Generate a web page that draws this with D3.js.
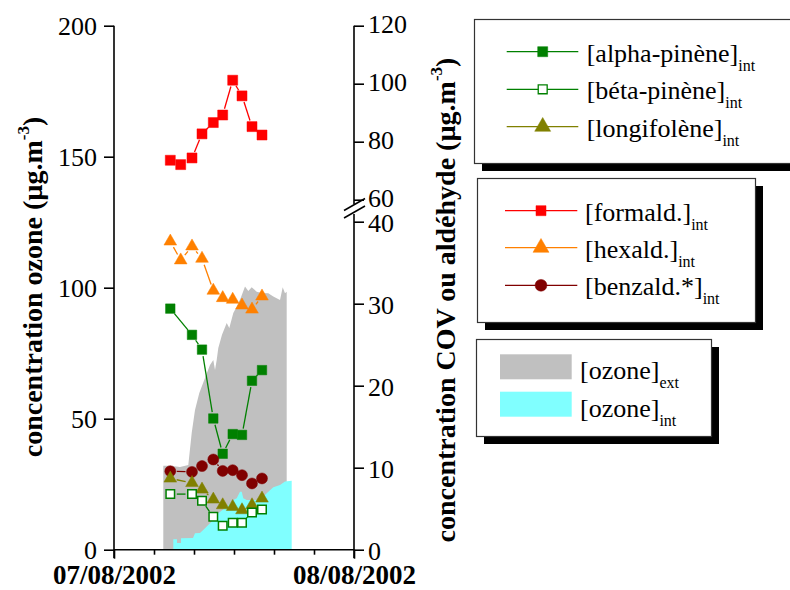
<!DOCTYPE html>
<html><head><meta charset="utf-8">
<script src="https://cdn.jsdelivr.net/npm/d3@7"></script>
<style>body{margin:0;background:#fff} svg{display:block} text{font-family:'Liberation Serif','Times New Roman',serif}</style>
</head><body>
<svg id="chart" width="790" height="590"></svg>
<script>
// ---------- data ----------
const dayLabels = ["07/08/2002", "08/08/2002"];
const sampleHours = [5.63, 6.67, 7.8, 8.8, 9.93, 10.87, 11.87, 12.8, 13.8, 14.8];
const formald = [73.6, 72.1, 74.4, 82.7, 86.6, 89.2, 101.2, 95.8, 85.2, 82.3];
const hexald  = [37.6, 35.3, 37.0, 35.5, 31.6, 30.7, 30.5, 29.8, 29.3, 30.9];
const benzald = [9.57, null, 9.49, 10.2, 11.0, 9.61, 9.70, 9.09, 8.08, 8.69];
const alphaPinene = [29.4, null, 26.2, 24.4, 16.0, 11.7, 14.1, 14.0, 20.6, 21.9];
const betaPinene  = [6.78, null, 6.78, 5.96, 4.01, 2.92, 3.28, 3.28, 4.55, 4.91];
const longifolene = [8.69, null, 8.15, 7.35, 6.13, 5.44, 5.23, 4.83, 5.44, 6.25];

const ozoneExtHours  = [4.93, 4.93, 5.6, 6.6, 7.43, 7.77, 8.1, 8.53, 9.1, 9.6, 9.93, 10.1, 10.27, 10.43, 10.8, 11.27, 11.53, 11.93, 12.27, 12.7, 13.1, 13.43, 13.77, 14.27, 14.8, 15.43, 15.93, 16.6, 16.87, 17.1, 17.27, 17.27];
const ozoneExtValues = [0, 32, 32, 31.6, 32.3, 44.5, 53.3, 59.8, 65.5, 70.5, 72.4, 68.6, 72.4, 77, 82, 86.5, 84.6, 90.3, 92.7, 96.4, 100.5, 98.7, 100.2, 98.5, 98, 97.9, 96.6, 95.3, 100.2, 97.9, 98.5, 0];
const ozoneIntHours  = [5.93, 5.93, 6.3, 6.3, 6.7, 6.7, 7.9, 8.1, 8.6, 9.1, 9.6, 9.93, 10.43, 11.27, 11.93, 12.27, 12.6, 12.77, 12.93, 13.27, 14.27, 14.77, 15.27, 15.93, 16.6, 17.1, 17.77, 17.77];
const ozoneIntValues = [0, 4.0, 4.0, 2.6, 2.6, 4.4, 4.5, 6.3, 6.4, 8.2, 10.1, 11.3, 13.9, 16.4, 19.0, 19.6, 22.1, 22.1, 19.6, 19.0, 19.0, 19.6, 21.5, 23.8, 24.7, 26.0, 26.3, 0];

const leftTicks = [0, 50, 100, 150, 200];
const rightUpperTicks = [60, 80, 100, 120];
const rightLowerTicks = [0, 10, 20, 30, 40];
const hourTicks = [0, 4, 8, 12, 16, 20, 24];

// ---------- setup ----------
const FONT = "'Liberation Serif','Times New Roman',serif";
const svg = d3.select("#chart");
const day0 = new Date(2002, 7, 7);
const toDate = h => new Date(day0.getTime() + h * 3600e3);

const x = d3.scaleTime().domain([toDate(0), toDate(24)]).range([114, 354]);
const yO = d3.scaleLinear().domain([0, 200]).range([549.7, 25.7]);
const yU = d3.scaleLinear().domain([60, 120]).range([199.7, 25.7]);
const yL = d3.scaleLinear().domain([0, 40]).range([549.7, 221.7]);

// ---------- ozone areas ----------
function areaData(hs, vs) { return hs.map((h, i) => ({t: toDate(h), v: vs[i]})); }
const area = d3.area().x(d => x(d.t)).y0(yO(0)).y1(d => yO(d.v));
svg.append("path").datum(areaData(ozoneExtHours, ozoneExtValues)).attr("d", area).attr("fill", "#c0c0c0");
svg.append("path").datum(areaData(ozoneIntHours, ozoneIntValues)).attr("d", area).attr("fill", "#80ffff");

// ---------- axes ----------
function styleAxis(g, fs) {
  g.attr("font-family", FONT);
  g.select(".domain").remove();
  g.selectAll("line").attr("stroke", "#000").attr("stroke-width", 1.6);
  g.selectAll("text").attr("font-family", FONT).attr("font-size", fs).attr("fill", "#000");
}
const TF = 26;
// left axis
const gl = svg.append("g").attr("transform", "translate(114,0)")
  .call(d3.axisLeft(yO).tickValues(leftTicks).tickSize(10).tickPadding(7).tickFormat(d3.format("d")));
styleAxis(gl, TF);
svg.append("line").attr("x1", 114).attr("x2", 114).attr("y1", yO(200)).attr("y2", 558).attr("stroke", "#000").attr("stroke-width", 1.6);

// right axis (broken)
const gru = svg.append("g").attr("transform", "translate(354,0)")
  .call(d3.axisRight(yU).tickValues(rightUpperTicks).tickSize(10).tickPadding(4).tickFormat(d3.format("d")));
styleAxis(gru, TF);
const grl = svg.append("g").attr("transform", "translate(354,0)")
  .call(d3.axisRight(yL).tickValues(rightLowerTicks).tickSize(10).tickPadding(4).tickFormat(d3.format("d")));
styleAxis(grl, TF);
gru.selectAll("text").attr("dy", "0.28em");
grl.selectAll("text").attr("dy", "0.36em");
svg.append("line").attr("x1", 354).attr("x2", 354).attr("y1", yU(120)).attr("y2", 204).attr("stroke", "#000").attr("stroke-width", 1.6);
svg.append("line").attr("x1", 354).attr("x2", 354).attr("y1", 214).attr("y2", 558).attr("stroke", "#000").attr("stroke-width", 1.6);
[204.5, 212].forEach(yb => {
  svg.append("line").attr("x1", 344).attr("y1", yb + 6).attr("x2", 365).attr("y2", yb - 6)
    .attr("stroke", "#000").attr("stroke-width", 1.6);
});

// x axis
svg.append("line").attr("x1", 114).attr("x2", 354).attr("y1", yO(0)).attr("y2", yO(0)).attr("stroke", "#000").attr("stroke-width", 1.6);
const gxm = svg.append("g").attr("transform", `translate(0,${yO(0)})`)
  .call(d3.axisBottom(x).tickValues(hourTicks.filter(h => h % 24 !== 0).map(toDate)).tickSize(5).tickFormat(""));
styleAxis(gxm, 0);
const gxM = svg.append("g").attr("transform", `translate(0,${yO(0)})`)
  .call(d3.axisBottom(x).tickValues([toDate(0), toDate(24)]).tickSize(9).tickPadding(6)
    .tickFormat((d, i) => dayLabels[i]));
styleAxis(gxM, 27);
gxM.selectAll("text").attr("font-weight", "bold");

// axis titles
function title(xc, yc, txt) {
  const t = svg.append("text").attr("transform", `translate(${xc},${yc}) rotate(-90)`)
    .attr("text-anchor", "middle").attr("font-family", FONT).attr("font-size", 28).attr("font-weight", "bold");
  t.append("tspan").text(txt);
  t.append("tspan").attr("font-size", 17).attr("dy", -13).text("-3");
  t.append("tspan").attr("dy", 13).text(")");
}
title(42, 287, "concentration ozone (µg.m");
title(455, 300, "concentration COV ou aldéhyde (µg.m");

// ---------- series ----------
const series = [
  {vals: formald, y: yU, color: "#ff0000", sym: d3.symbolSquare, size: 100, fill: true},
  {vals: hexald, y: yL, color: "#ff8000", sym: d3.symbolTriangle, size: 70, fill: true},
  {vals: alphaPinene, y: yL, color: "#008000", sym: d3.symbolSquare, size: 90, fill: true},
  {vals: benzald, y: yL, color: "#800000", sym: d3.symbolCircle, size: 95, fill: true},
  {vals: longifolene, y: yL, color: "#808000", sym: d3.symbolTriangle, size: 70, fill: true},
  {vals: betaPinene, y: yL, color: "#008000", sym: d3.symbolSquare, size: 72, fill: false}
];
const GAP = 6.5;
const seg = d3.line();
series.forEach(s => {
  const pts = sampleHours.map((h, i) => s.vals[i] == null ? null : [x(toDate(h)), s.y(s.vals[i])]).filter(p => p);
  const g = svg.append("g");
  for (let i = 0; i < pts.length - 1; i++) {
    const [x1, y1] = pts[i], [x2, y2] = pts[i + 1];
    const L = Math.hypot(x2 - x1, y2 - y1);
    if (L <= 2 * GAP + 1) continue;
    const ux = (x2 - x1) / L, uy = (y2 - y1) / L;
    g.append("path").attr("d", seg([[x1 + ux * GAP, y1 + uy * GAP], [x2 - ux * GAP, y2 - uy * GAP]]))
      .attr("stroke", s.color).attr("stroke-width", 1.3).attr("fill", "none");
  }
  g.selectAll(".m").data(pts).join("path")
    .attr("transform", p => `translate(${p[0]},${p[1]})`)
    .attr("d", d3.symbol().type(s.sym).size(s.size))
    .attr("fill", s.fill ? s.color : "#fff")
    .attr("stroke", s.color).attr("stroke-width", s.fill ? 0.5 : 1.5);
});

// ---------- legends ----------
function box(x0, y0, w, h) {
  svg.append("rect").attr("x", x0 + 7.5).attr("y", y0 + 7.5).attr("width", w).attr("height", h).attr("fill", "#000");
  svg.append("rect").attr("x", x0).attr("y", y0).attr("width", w).attr("height", h)
    .attr("fill", "#fff").attr("stroke", "#333").attr("stroke-width", 1.2);
}
function label(x0, yb, main, sub) {
  const t = svg.append("text").attr("x", x0).attr("y", yb).attr("font-family", FONT).attr("font-size", 26).attr("fill", "#000");
  t.append("tspan").text(main);
  t.append("tspan").attr("font-size", 16).attr("dy", 9).text(sub);
}
box(474.5, 19.5, 330, 144);
box(477.5, 178.5, 278, 144);
box(476.5, 339.5, 235, 97);

const leg1 = [
  {name: "[alpha-pinène]", color: "#008000", sym: d3.symbolSquare, size: 100, fill: true},
  {name: "[béta-pinène]", color: "#008000", sym: d3.symbolSquare, size: 80, fill: false},
  {name: "[longifolène]", color: "#808000", sym: d3.symbolTriangle, size: 110, fill: true}
];
const leg1Y = [51.7, 89.3, 126.7];
leg1.forEach((d, i) => {
  svg.append("line").attr("x1", 506.7).attr("x2", 578.3).attr("y1", leg1Y[i]).attr("y2", leg1Y[i]).attr("stroke", d.color).attr("stroke-width", 1.3);
  svg.append("path").attr("transform", `translate(542.7,${leg1Y[i]})`).attr("d", d3.symbol().type(d.sym).size(d.size))
    .attr("fill", d.fill ? d.color : "#fff").attr("stroke", d.color).attr("stroke-width", d.fill ? 0.5 : 1.3);
  label(586.7, leg1Y[i] + 10, d.name, "int");
});
const leg2 = [
  {name: "[formald.]", color: "#ff0000", sym: d3.symbolSquare, size: 100},
  {name: "[hexald.]", color: "#ff8000", sym: d3.symbolTriangle, size: 110},
  {name: "[benzald.*]", color: "#800000", sym: d3.symbolCircle, size: 110}
];
const leg2Y = [210.7, 247.7, 285.3];
leg2.forEach((d, i) => {
  svg.append("line").attr("x1", 505).attr("x2", 577.3).attr("y1", leg2Y[i]).attr("y2", leg2Y[i]).attr("stroke", d.color).attr("stroke-width", 1.3);
  svg.append("path").attr("transform", `translate(541,${leg2Y[i]})`).attr("d", d3.symbol().type(d.sym).size(d.size))
    .attr("fill", d.color).attr("stroke", d.color).attr("stroke-width", 0.5);
  label(585, leg2Y[i] + 10, d.name, "int");
});
const leg3 = [
  {name: "[ozone]", sub: "ext", color: "#c0c0c0", y: 354.3},
  {name: "[ozone]", sub: "int", color: "#80ffff", y: 391.7}
];
leg3.forEach(d => {
  svg.append("rect").attr("x", 500).attr("y", d.y).attr("width", 71.7).attr("height", 25).attr("fill", d.color);
  label(580, d.y + 25, d.name, d.sub);
});
</script>
</body></html>
